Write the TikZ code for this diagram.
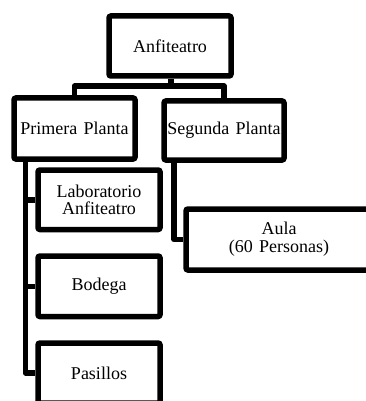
\documentclass[tikz,border=0pt]{standalone}
\usepackage{fontspec}
\setmainfont{Liberation Serif}
\newcommand{\boxfont}{\fontsize{18}{17.8}\selectfont\spaceskip=0.34em\relax}
\begin{document}
\begin{tikzpicture}[x=1pt,y=-1pt,
  box/.style={draw=black, line width=5.5pt, rounded corners=2pt, fill=white,
    inner sep=0pt, align=center, font=\boxfont},
  link/.style={draw=black, line width=5.5pt, line join=round}]
  \useasboundingbox (0,0) rectangle (366,401);
  \clip (0,0) rectangle (366,401);
  % junction points of the tree
  \coordinate (j) at (171,86);
  \coordinate (t1) at (25.5,159);
  \coordinate (t2) at (174,160);
  % boxes
  \node[box, minimum width=122pt, minimum height=60pt] (anf) at (170,46) {Anfiteatro};
  \node[box, minimum width=121pt, minimum height=61pt] (p1) at (74.5,128.5) {Primera Planta};
  \node[box, minimum width=120pt, minimum height=59pt] (p2) at (224,130.5) {Segunda Planta};
  \node[box, minimum width=122pt, minimum height=59.5pt] (lab) at (99,199.75) {Laboratorio\\Anfiteatro};
  \node[box, minimum width=122pt, minimum height=60.5pt] (bod) at (99,286.25) {Bodega};
  \node[box, minimum width=122pt, minimum height=60pt] (pas) at (99,373) {Pasillos};
  \node[box, minimum width=186pt, minimum height=61pt] (aula) at (279,239.5) {Aula\\(60 Personas)};
  % tree connectors
  \draw[link] (anf.south -| j) -- (j) -| (p1.north);
  \draw[link] (j) -| (p2.north);
  \draw[link] (t1) |- (lab.west);
  \draw[link] (t1) |- (bod.west);
  \draw[link] (t1) |- (pas.west);
  \draw[link] (t2) |- (aula.west);
\end{tikzpicture}
\end{document}
